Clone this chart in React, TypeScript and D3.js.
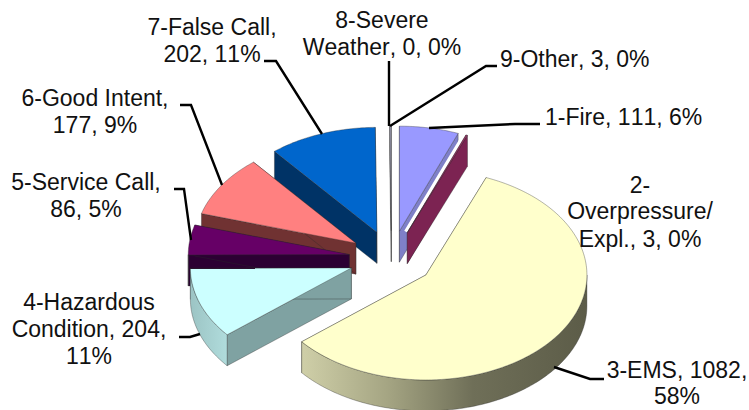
import React, { useMemo } from "react";
import * as d3 from "d3";

// Incident counts, clockwise from twelve o'clock
const categories = ["1-Fire", "2-Overpressure/Expl.", "3-EMS", "4-Hazardous Condition", "5-Service Call", "6-Good Intent", "7-False Call", "8-Severe Weather", "9-Other"];
const counts = [111, 3, 1082, 204, 86, 177, 202, 0, 3];
const topColors = ["#9999ff", "#993366", "#ffffcc", "#ccffff", "#660066", "#ff8080", "#0066cc", "#ccccff", "#9a9ab0"];
const sideColors = ["#7f80c8", "#7c2352", "#8a8a6c", "#7fa2a2", "#2c0033", "#703232", "#003366", "#8888a0", "#85858f"];

// Slices are painted back to front so nearer ones overlap farther ones
const paintOrder = [8, 7, 6, 5, 4, 3, 0, 1, 2];

// Wrapped label text with its anchor and baselines
const labelLines = [
  { lines: ["1-Fire, 111, 6%"], x: 545, y: [125], anchor: "start" },
  { lines: ["2-", "Overpressure/", "Expl., 3, 0%"], x: 640, y: [193, 219, 247], anchor: "middle" },
  { lines: ["3-EMS, 1082,", "58%"], x: 677, y: [378, 404], anchor: "middle" },
  { lines: ["4-Hazardous", "Condition, 204,", "11%"], x: 89, y: [310, 337, 364], anchor: "middle" },
  { lines: ["5-Service Call,", "86, 5%"], x: 86, y: [190, 217], anchor: "middle" },
  { lines: ["6-Good Intent,", "177, 9%"], x: 95, y: [106, 133], anchor: "middle" },
  { lines: ["7-False Call,", "202, 11%"], x: 212, y: [35, 62], anchor: "middle" },
  { lines: ["8-Severe", "Weather, 0, 0%"], x: 382, y: [28, 55], anchor: "middle" },
  { lines: ["9-Other, 3, 0%"], x: 500, y: [67], anchor: "start" },
];

// Elbowed leader lines running from the labels to their slices
const leaderPaths: [number, number][][] = [
  [[540, 124], [515, 124], [429, 128]],
  [[554, 367], [590, 379], [604, 379]],
  [[179, 337], [190, 337], [200, 334]],
  [[174, 189], [184, 189], [191, 240]],
  [[180, 105], [191, 105], [222, 185]],
  [[264, 61], [276, 61], [322, 134]],
  [[389, 61], [389, 126]],
  [[497, 66], [486, 66], [390, 126]],
];

const WIDTH = 749;
const HEIGHT = 410;
const CX = 391.5;
const CY = 258.5;
const RX = 161;
const RY = 105;
const DEPTH = 31;
const EXPLODE = 0.265;
const FONT = "'Liberation Sans', Arial, sans-serif";

type Pt = [number, number];

const project = (angle: number, radius: number, ox: number, oy: number): Pt => [
  ox + radius * RX * Math.sin(angle),
  oy - radius * RY * Math.cos(angle),
];

const poly = (pts: Pt[]) => d3.line()(pts) ?? "";

export default function App() {
  const slices = useMemo(() => {
    const arcs = d3.pie<number>().sort(null)(counts);
    return arcs.map((a, i) => {
      const mid = (a.startAngle + a.endAngle) / 2;
      const [ox, oy] = project(mid, EXPLODE, CX, CY);
      const steps = Math.max(2, Math.ceil((a.endAngle - a.startAngle) * 60));
      const angles = d3.range(steps + 1).map((k) => a.startAngle + ((a.endAngle - a.startAngle) * k) / steps);
      const rim = angles.map((t) => project(t, 1, ox, oy));
      const down = (p: Pt): Pt => [p[0], p[1] + DEPTH];
      const apex: Pt = [ox, oy];

      // Only the part of the outer wall that faces the viewer is drawn
      const lo = Math.max(a.startAngle, Math.PI / 2);
      const hi = Math.min(a.endAngle, (3 * Math.PI) / 2);
      let wall: Pt[] | null = null;
      if (hi > lo) {
        const n = Math.max(2, Math.ceil((hi - lo) * 60));
        const upper = d3.range(n + 1).map((k) => project(lo + ((hi - lo) * k) / n, 1, ox, oy));
        wall = [...upper, ...upper.slice().reverse().map(down)];
      }

      const startRim = rim[0];
      const endRim = rim[rim.length - 1];
      return {
        i,
        value: a.value,
        top: [apex, ...rim],
        startCut: [apex, startRim, down(startRim), down(apex)] as Pt[],
        endCut: [apex, endRim, down(endRim), down(apex)] as Pt[],
        wall,
      };
    });
  }, []);

  return (
    <svg width={WIDTH} height={HEIGHT} style={{ position: "absolute", left: 0, top: 0, background: "#fff" }}>
      <defs>
        <linearGradient id="emsWall" x1="0" x2="1" y1="0" y2="0">
          <stop offset="0" stopColor="#cfcfa8" />
          <stop offset="0.3" stopColor="#a5a583" />
          <stop offset="0.6" stopColor="#6f6f58" />
          <stop offset="1" stopColor="#5c5c48" />
        </linearGradient>
        <linearGradient id="hazWall" x1="0" x2="1" y1="0" y2="0">
          <stop offset="0" stopColor="#9cc4c4" />
          <stop offset="1" stopColor="#b0dcdc" />
        </linearGradient>
      </defs>

      {paintOrder.map((idx) => {
        const s = slices[idx];
        if (s.value === 0) return null;
        const side = sideColors[idx];
        const edge = { stroke: "#2a2a2a", strokeWidth: 0.5, strokeOpacity: 0.7 };
        const wallFill = idx === 2 ? "url(#emsWall)" : idx === 3 ? "url(#hazWall)" : side;
        return (
          <g key={categories[idx]}>
            {idx === 1 && <path d={poly(s.startCut)} fill="#fff" stroke="#fff" strokeWidth={7} />}
            <path d={poly(s.startCut) + "Z"} fill={side} {...edge} />
            <path d={poly(s.endCut) + "Z"} fill={side} {...edge} />
            {s.wall && <path d={poly(s.wall) + "Z"} fill={wallFill} {...edge} />}
            <path d={poly(s.top) + "Z"} fill={topColors[idx]} {...edge} />
          </g>
        );
      })}

      {leaderPaths.map((pts, i) => (
        <path key={i} d={poly(pts)} fill="none" stroke="#000" strokeWidth={2.4} />
      ))}

      {labelLines.map((l) =>
        l.lines.map((text, j) => (
          <text
            key={text}
            x={l.x}
            y={l.y[j]}
            textAnchor={l.anchor as "start" | "middle"}
            fontFamily={FONT}
            fontSize={23}
            fill="#111"
            style={{ fontKerning: "none" }}
          >
            {text}
          </text>
        ))
      )}
    </svg>
  );
}
